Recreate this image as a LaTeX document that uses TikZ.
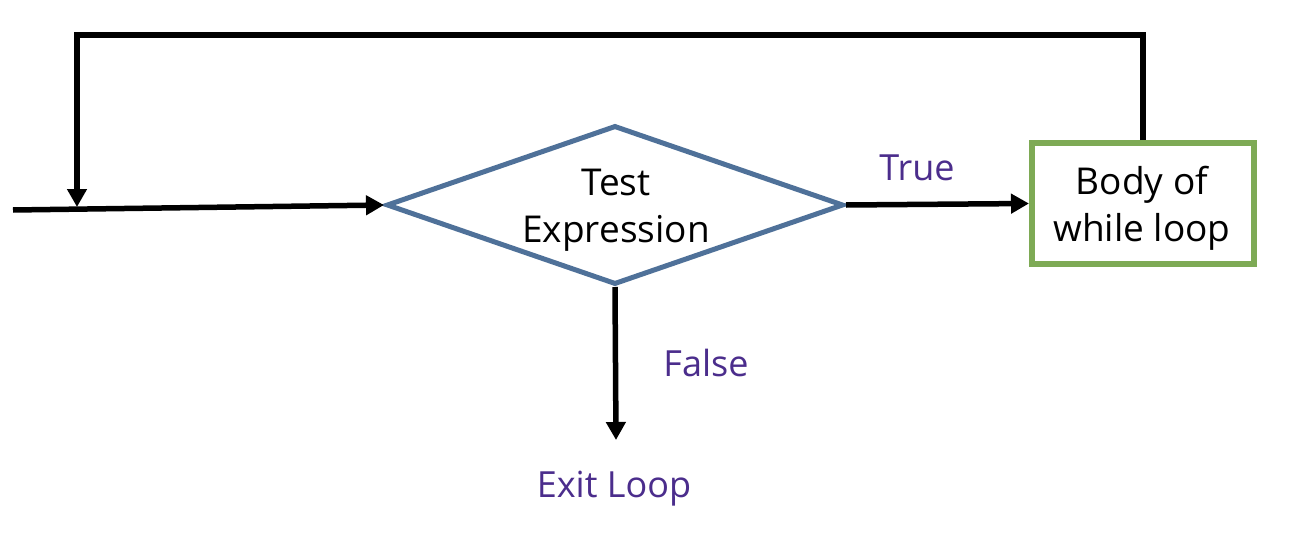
\documentclass[tikz,border=0pt]{standalone}
\usepackage{fontspec}
\setmainfont{Open Sans}
\usetikzlibrary{shapes.geometric,arrows.meta}
\definecolor{diablue}{RGB}{79,113,153}
\definecolor{boxgreen}{RGB}{126,170,85}
\definecolor{lblpurple}{RGB}{75,45,140}
\begin{document}
\begin{tikzpicture}[x=1pt,y=-1pt,
  arr/.style={line width=5.5pt,-{Triangle[length=18pt,width=19pt]}},
  lbl/.style={text=lblpurple,font=\fontsize{36}{42}\selectfont,inner sep=0pt},
  txt/.style={align=center,font=\fontsize{37}{47}\selectfont,inner sep=0pt}]
\useasboundingbox (0,0) rectangle (1294,538);
\node[shape=diamond,draw=diablue,line width=5pt,aspect=2.8,inner sep=0pt,
      minimum width=457pt,minimum height=159pt] (test) at (615,205) {};
\node[txt] (testlbl) at (616,210) {Test\\Expression};
\node[draw=boxgreen,line width=6pt,minimum width=222pt,minimum height=121pt,inner sep=0pt] (body) at (1143,203.5) {};
\node[txt] (bodylbl) at (1142,208) {Body of\\while loop};
\coordinate (in) at (13,210);
\coordinate (tl) at (77,35);
\coordinate (jn) at (77,207);
\coordinate (fend) at (616,440);
\node[lbl] (true) at (917,168) {True};
\node[lbl] (false) at (706,363) {False};
\node[lbl] (exit) at (614,489) {Exit Loop};
\draw[arr] (in) -- (test.west);
\draw[arr] (test.east) -- (body.west);
\draw[arr] (body.north) |- (tl) -- (jn);
\draw[arr] (test.south) -- (fend);
\end{tikzpicture}
\end{document}
